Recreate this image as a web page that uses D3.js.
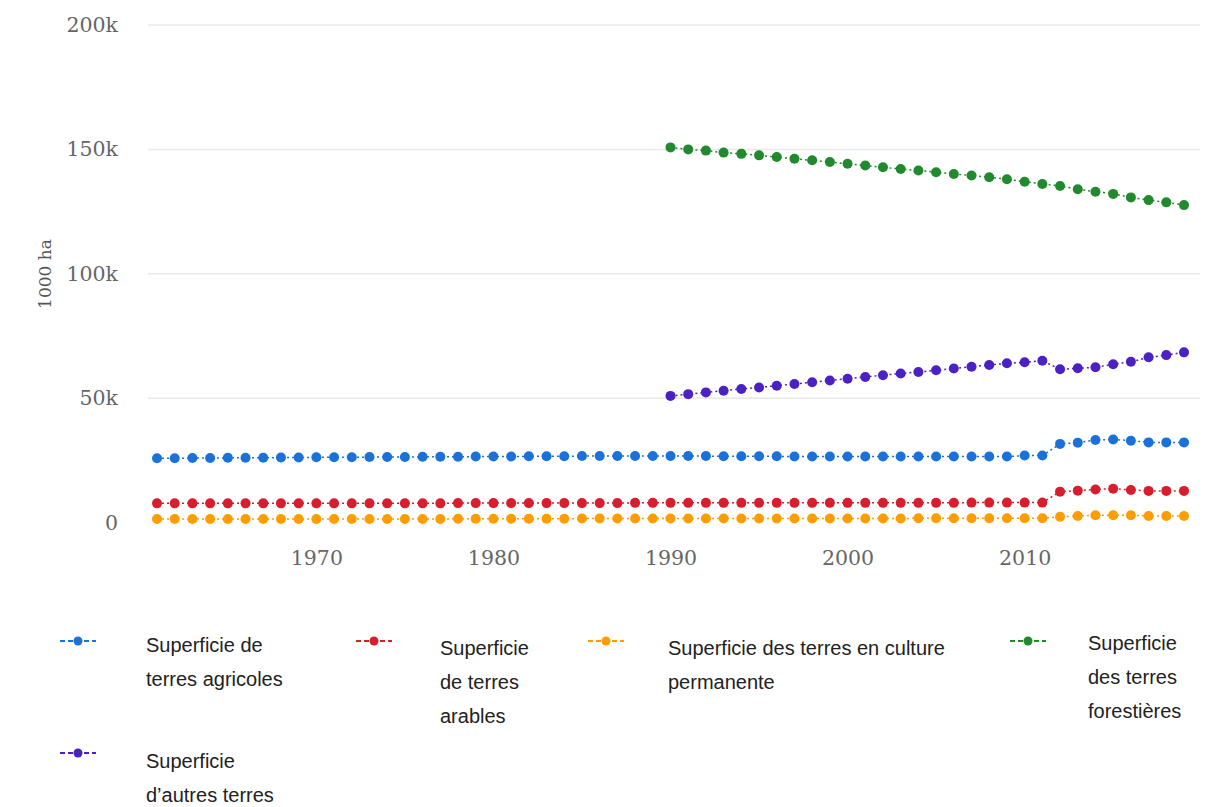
<!DOCTYPE html>
<html>
<head>
<meta charset="utf-8">
<script src="https://cdn.jsdelivr.net/npm/d3@7"></script>
<style>
  body { margin: 0; background: #fff; }
  .tick-label { font-family: "DejaVu Serif", serif; fill: #666; }
  .legend-text { font-family: "Liberation Sans Narrow", "Liberation Sans", sans-serif; fill: #222; }
</style>
</head>
<body>
<svg id="chart" width="1209" height="807"></svg>
<script>
// years on the x axis
const years = [1961,1962,1963,1964,1965,1966,1967,1968,1969,1970,
  1971,1972,1973,1974,1975,1976,1977,1978,1979,1980,
  1981,1982,1983,1984,1985,1986,1987,1988,1989,1990,
  1991,1992,1993,1994,1995,1996,1997,1998,1999,2000,
  2001,2002,2003,2004,2005,2006,2007,2008,2009,2010,
  2011,2012,2013,2014,2015,2016,2017,2018,2019];
const recentYears = years.slice(years.indexOf(1990));

// values in 1000 ha
const agricole = [25800,25800,25900,25900,26000,26000,26000,26100,26100,26200,
  26200,26200,26300,26300,26300,26400,26400,26400,26500,26500,
  26500,26600,26600,26600,26700,26700,26700,26700,26700,26700,
  26700,26700,26600,26600,26600,26600,26500,26500,26500,26500,
  26500,26500,26500,26500,26500,26500,26500,26500,26500,26900,
  26900,31600,32100,33200,33400,32900,32200,32200,32200];
const arables = [7700,7700,7700,7700,7700,7700,7700,7700,7700,7700,
  7700,7700,7700,7700,7700,7700,7700,7800,7800,7800,
  7800,7800,7800,7800,7800,7800,7800,7900,7900,7900,
  7900,7900,7900,7900,7900,7900,7900,7900,7900,7900,
  7900,7900,7900,7900,7900,7900,8000,8000,8000,8000,
  8000,12400,12800,13300,13600,13100,12700,12700,12700];
const permanente = [1400,1400,1400,1400,1400,1400,1400,1400,1400,1400,
  1400,1400,1400,1400,1400,1400,1400,1500,1500,1500,
  1500,1500,1500,1500,1600,1600,1600,1600,1600,1600,
  1600,1600,1600,1600,1600,1600,1600,1600,1600,1600,
  1600,1600,1600,1700,1700,1700,1700,1700,1700,1700,
  1700,2300,2600,2900,2900,2900,2600,2600,2600];
const forestieres = [150800,150000,149500,148700,148200,147600,146900,146200,145600,144900,
  144200,143500,142800,142100,141500,140800,140100,139500,138800,138000,
  137000,136100,135300,134000,133000,132100,130700,129600,128700,127600];
const autres = [50900,51600,52300,53000,53700,54300,55000,55700,56400,57100,
  57800,58500,59200,59900,60500,61200,61900,62600,63300,64000,
  64400,65000,61600,62000,62400,63600,64600,66400,67300,68400];

const yTicks = [0, 50000, 100000, 150000, 200000];
const xTicks = [1970, 1980, 1990, 2000, 2010];

const series = [
  { name: ["Superficie de", "terres agricoles"], color: "#1a72d9", x: years, y: agricole },
  { name: ["Superficie", "de terres", "arables"], color: "#d81e2c", x: years, y: arables },
  { name: ["Superficie des terres en culture", "permanente"], color: "#ff9d00", x: years, y: permanente },
  { name: ["Superficie", "des terres", "forestières"], color: "#21892e", x: recentYears, y: forestieres },
  { name: ["Superficie", "d’autres terres"], color: "#4a22c4", x: recentYears, y: autres }
];

const svg = d3.select("#chart");

const xScale = d3.scaleLinear().domain([1961, 2019]).range([157, 1184]);
const yScale = d3.scaleLinear().domain([0, 200000]).range([522.5, 25]);

// gridlines
svg.append("g")
  .selectAll("line").data(yTicks.slice(1)).enter().append("line")
  .attr("x1", 148).attr("x2", 1200)
  .attr("y1", d => yScale(d)).attr("y2", d => yScale(d))
  .attr("stroke", "#e8e8e8").attr("stroke-width", 1.5);

// y axis
const yAxis = svg.append("g")
  .attr("transform", "translate(118,0)")
  .call(d3.axisLeft(yScale).tickValues(yTicks).tickFormat(d3.format("~s")).tickSize(0).tickPadding(0));
yAxis.select(".domain").remove();
yAxis.selectAll("text").attr("class", "tick-label").attr("font-size", 20.5);

svg.append("text")
  .attr("class", "tick-label")
  .attr("transform", "translate(51,274) rotate(-90)")
  .attr("text-anchor", "middle")
  .attr("font-size", 17)
  .style("fill", "#555")
  .text("1000 ha");

// x axis
const xAxis = svg.append("g")
  .attr("transform", "translate(0,550)")
  .call(d3.axisBottom(xScale).tickValues(xTicks).tickFormat(d3.format("d")).tickSize(0).tickPadding(0));
xAxis.select(".domain").remove();
xAxis.selectAll("text").attr("class", "tick-label").attr("font-size", 20.5);

// lines and dots
const line = d3.line()
  .x(d => xScale(d[0]))
  .y(d => yScale(d[1]));

series.forEach(s => {
  const pts = s.x.map((yr, i) => [yr, s.y[i]]);
  const g = svg.append("g");
  g.append("path")
    .datum(pts)
    .attr("fill", "none")
    .attr("stroke", s.color)
    .attr("stroke-width", 1.5)
    .attr("stroke-dasharray", "2,3")
    .attr("d", line);
  g.selectAll("circle").data(pts).enter().append("circle")
    .attr("cx", d => xScale(d[0]))
    .attr("cy", d => yScale(d[1]))
    .attr("r", 5)
    .attr("fill", s.color);
});

// legend
const legendPos = [
  { ix: 60, iy: 641, tx: 146, ty: 652 },
  { ix: 356, iy: 641, tx: 440, ty: 655 },
  { ix: 588, iy: 641, tx: 668, ty: 655 },
  { ix: 1010, iy: 641, tx: 1088, ty: 650 },
  { ix: 60, iy: 753, tx: 146, ty: 768 }
];
const lineHeight = 34;

const legend = svg.append("g");
series.forEach((s, i) => {
  const p = legendPos[i];
  const item = legend.append("g");
  item.append("line")
    .attr("x1", p.ix).attr("x2", p.ix + 36)
    .attr("y1", p.iy).attr("y2", p.iy)
    .attr("stroke", s.color).attr("stroke-width", 2)
    .attr("stroke-dasharray", "5,3");
  item.append("circle")
    .attr("cx", p.ix + 18).attr("cy", p.iy).attr("r", 4.5)
    .attr("fill", s.color);
  const t = item.append("text")
    .attr("class", "legend-text")
    .attr("x", p.tx).attr("y", p.ty)
    .attr("font-size", 20);
  s.name.forEach((ln, j) => {
    t.append("tspan").attr("x", p.tx).attr("dy", j === 0 ? 0 : lineHeight).text(ln);
  });
});
</script>
</body>
</html>
